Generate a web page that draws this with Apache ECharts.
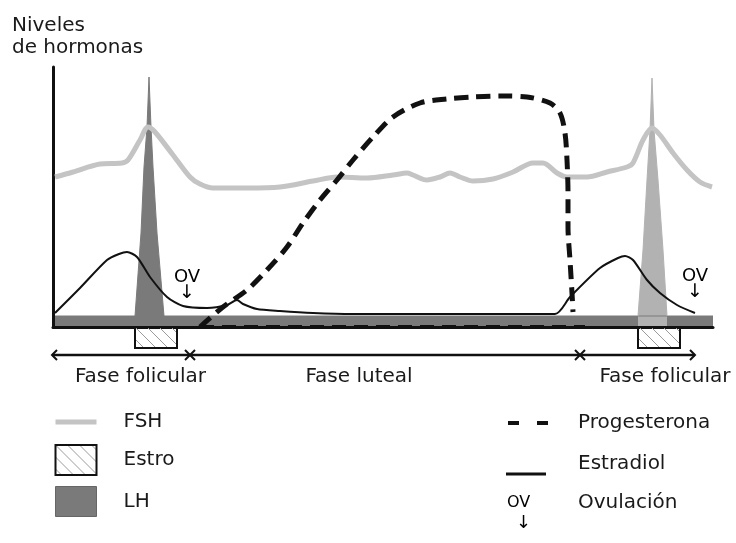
<!DOCTYPE html>
<html>
<head>
<meta charset="utf-8">
<title>Niveles de hormonas</title>
<script src="https://cdn.jsdelivr.net/npm/echarts@6/dist/echarts.min.js"></script>
<style>
html, body { margin: 0; padding: 0; background: #fff; }
#chart { width: 736px; height: 543px; }
</style>
</head>
<body>
<div id="chart"></div>
<script>
// eje x: tiempo del ciclo (unidades arbitrarias 0-660), eje y: nivel (0-260)
const fshX = [2, 20, 47, 69, 75, 87, 95, 102, 120, 137, 147, 160, 194, 227, 260, 284, 314, 340, 354, 360, 374, 387, 397, 407, 420, 440, 460, 480, 490, 504, 514, 534, 554, 574, 580, 590, 599, 607, 620, 634, 647, 659];
const fshY = [150, 155, 163, 164, 167, 187, 200, 195, 172, 150, 143, 139, 139, 140, 146, 150, 149, 152, 154, 152, 147, 150, 154, 150, 146, 148, 155, 164, 164, 154, 150, 150, 155, 160, 164, 187, 199, 192, 174, 157, 145, 140];

const lhX = [0, 82, 88, 91, 94, 96, 98, 100, 104, 111, 660];
const lhY = [11, 11, 94, 160, 200, 250, 200, 160, 94, 11, 11];
const lh2X = [585, 590, 594, 597, 599, 601, 605, 610, 614];
const lh2Y = [11, 77, 147, 197, 249, 197, 147, 77, 11];

const estradiolX = [2, 27, 54, 66, 74, 84, 97, 114, 130, 154, 174, 184, 190, 204, 227, 260, 300, 502, 517, 547, 565, 572, 580, 594, 607, 624, 642];
const estradiolY = [14, 39, 67, 73, 75, 70, 50, 30, 21, 19, 22, 27, 23, 18, 16, 14, 13, 13, 30, 59, 69, 71, 67, 47, 34, 22, 14];

const progX = [147, 170, 194, 214, 234, 250, 267, 284, 300, 320, 340, 367, 394, 420, 447, 474, 497, 507, 512, 514, 515, 515, 517, 519, 520];
const progY = [0, 20, 37, 57, 80, 104, 127, 147, 167, 190, 210, 224, 228, 230, 231, 230, 224, 214, 194, 167, 134, 100, 67, 34, 15];
const progBaseX = [147, 532];
const progBaseY = [0, 0];

const estroStart = [82, 585];
const estroEnd = [124, 627];

const ovX = [134, 642];
const ovY = [24, 25];

const phaseStart = [-1, 137, 527];
const phaseEnd = [137, 527, 642];
const phaseLabelAt = [87.5, 306, 612];
const phaseNames = ['Fase folicular', 'Fase luteal', 'Fase folicular'];

const pairs = (xs, ys) => xs.map((x, i) => [x, ys[i]]);

// trama rayada del Estro
const hatchCanvas = document.createElement('canvas');
hatchCanvas.width = 12;
hatchCanvas.height = 12;
const hctx = hatchCanvas.getContext('2d');
hctx.strokeStyle = '#9a9a9a';
hctx.lineWidth = 1;
hctx.beginPath();
hctx.moveTo(0, 0); hctx.lineTo(12, 12);
hctx.moveTo(-2, 10); hctx.lineTo(2, 14);
hctx.moveTo(10, -2); hctx.lineTo(14, 2);
hctx.stroke();
const hatch = { image: hatchCanvas, repeat: 'repeat' };

const font = 'DejaVu Sans';
const ink = '#1a1a1a';
const fs = 20;

const chart = echarts.init(document.getElementById('chart'));

const legendBase = {
  orient: 'vertical', padding: 0, selectedMode: false,
  itemWidth: 40, itemHeight: 30
};

const option = {
  animation: false,
  backgroundColor: '#fff',
  textStyle: { fontFamily: font },
  title: {
    text: 'Niveles\nde hormonas',
    left: 12,
    top: 15,
    padding: 0,
    textStyle: { fontSize: fs, lineHeight: 22, fontWeight: 'normal', color: ink, fontFamily: font }
  },
  grid: { left: 53, right: 23, top: 67, bottom: 216, containLabel: false },
  xAxis: {
    type: 'value', min: 0, max: 660, z: 3,
    axisLine: { show: true, lineStyle: { color: '#111', width: 3 } },
    axisTick: { show: false }, axisLabel: { show: false }, splitLine: { show: false }
  },
  yAxis: {
    type: 'value', min: 0, max: 260, z: 3,
    axisLine: { show: true, lineStyle: { color: '#111', width: 3 } },
    axisTick: { show: false }, axisLabel: { show: false }, splitLine: { show: false }
  },
  legend: [
    Object.assign({}, legendBase, {
      left: 53, top: 410, itemWidth: 41, itemGap: 10,
      textStyle: { fontSize: fs, color: ink, fontFamily: font, padding: [0, 0, 0, 22] },
      data: [
        { name: 'FSH', itemStyle: { opacity: 0 }, lineStyle: { width: 5, color: '#c4c4c4' } },
        { name: 'Estro', icon: 'rect', itemStyle: { color: hatch, borderColor: '#111', borderWidth: 2 } },
        { name: 'LH', icon: 'rect', itemStyle: { color: '#7a7a7a', borderColor: '#666', borderWidth: 1 } }
      ]
    }),
    Object.assign({}, legendBase, {
      left: 506, top: 411,
      textStyle: { fontSize: fs, color: ink, fontFamily: font, padding: [0, 0, 0, 25] },
      data: [{ name: 'Progesterona', itemStyle: { opacity: 0 }, lineStyle: { width: 4, type: [11, 18], color: '#111' } }]
    }),
    Object.assign({}, legendBase, {
      left: 506, top: 449,
      textStyle: { fontSize: fs, color: ink, fontFamily: font, padding: [0, 0, 0, 27] },
      data: [{
        name: 'Estradiol',
        icon: 'path://M0,0h0.05v0.05h-0.05z M0,23.5h40v3h-40z M39.95,29.95h0.05v0.05h-0.05z',
        itemStyle: { color: '#111', borderWidth: 0, opacity: 1 }
      }]
    }),
    Object.assign({}, legendBase, {
      left: 501, top: 493, itemWidth: 1,
      formatter: name => '{tag|OV}{nom|' + name + '}\n{flecha|↓}',
      textStyle: {
        color: ink, fontFamily: font,
        rich: {
          tag: { fontSize: 16, width: 71, lineHeight: 22, color: '#000', fontFamily: font },
          nom: { fontSize: fs, lineHeight: 22, color: ink, fontFamily: font },
          flecha: { fontSize: 18, lineHeight: 18, padding: [0, 0, 0, 9], color: '#000', fontFamily: font }
        }
      },
      data: [{ name: 'Ovulación', icon: 'rect', itemStyle: { opacity: 0 } }]
    })
  ],
  series: [
    {
      name: 'LH', type: 'line', z: 2, symbol: 'none',
      data: pairs(lhX, lhY),
      itemStyle: { color: '#7a7a7a' },
      lineStyle: { width: 1, color: '#7a7a7a' },
      areaStyle: { color: '#7a7a7a', opacity: 1 }
    },
    {
      name: 'LH', type: 'line', z: 2, symbol: 'none',
      data: pairs(lh2X, lh2Y),
      itemStyle: { color: '#b2b2b2' },
      lineStyle: { width: 1, color: '#b2b2b2' },
      areaStyle: { color: '#b2b2b2', opacity: 1 }
    },
    {
      name: 'FSH', type: 'line', z: 3, symbol: 'none', smooth: 0.3,
      data: pairs(fshX, fshY),
      itemStyle: { color: '#c4c4c4' },
      lineStyle: { width: 5, color: '#c4c4c4' }
    },
    {
      name: 'Estradiol', type: 'line', z: 4, symbol: 'none', smooth: 0.25,
      data: pairs(estradiolX, estradiolY),
      itemStyle: { color: '#111' },
      lineStyle: { width: 2, color: '#111' }
    },
    {
      name: 'Progesterona', type: 'line', z: 5, symbol: 'none', smooth: 0.3,
      data: pairs(progX, progY),
      itemStyle: { color: '#111' },
      lineStyle: { width: 5, color: '#111', type: [14, 8] }
    },
    {
      name: 'Progesterona', type: 'line', z: 5, symbol: 'none',
      data: pairs(progBaseX, progBaseY),
      itemStyle: { color: '#111' },
      lineStyle: { width: 4, color: '#111', type: [14, 8] }
    },
    {
      name: 'Estro', type: 'custom', z: 6,
      itemStyle: { color: hatch, borderColor: '#111', borderWidth: 2 },
      encode: { x: [0, 1] },
      data: estroStart.map((s, i) => [s, estroEnd[i]]),
      renderItem: (params, api) => {
        const p0 = api.coord([api.value(0), 0]);
        const p1 = api.coord([api.value(1), -21]);
        return {
          type: 'rect',
          shape: { x: p0[0], y: p0[1], width: p1[0] - p0[0], height: p1[1] - p0[1] },
          style: { fill: hatch, stroke: '#111', lineWidth: 2 }
        };
      }
    },
    {
      name: 'Fases', type: 'custom', z: 6,
      encode: { x: [0, 1, 2] },
      data: phaseStart.map((s, i) => [s, phaseEnd[i], phaseLabelAt[i]]),
      renderItem: (params, api) => {
        const a = api.coord([api.value(0), -28]);
        const b = api.coord([api.value(1), -28]);
        const t = api.coord([api.value(2), -50]);
        const head = { stroke: '#111', fill: null, lineWidth: 2 };
        return {
          type: 'group',
          children: [
            { type: 'line', shape: { x1: a[0], y1: a[1], x2: b[0], y2: b[1] }, style: { stroke: '#111', lineWidth: 2.5 } },
            { type: 'polyline', shape: { points: [[a[0] + 5, a[1] - 5], [a[0], a[1]], [a[0] + 5, a[1] + 5]] }, style: head },
            { type: 'polyline', shape: { points: [[b[0] - 5, b[1] - 5], [b[0], b[1]], [b[0] - 5, b[1] + 5]] }, style: head },
            {
              type: 'text', x: t[0], y: t[1],
              style: { text: phaseNames[params.dataIndex], align: 'center', verticalAlign: 'middle',
                       fontSize: fs, fontFamily: font, fill: ink }
            }
          ]
        };
      }
    },
    {
      name: 'Ovulación', type: 'custom', z: 7,
      encode: { x: 0, y: 1 },
      data: pairs(ovX, ovY),
      renderItem: (params, api) => {
        const p = api.coord([api.value(0), api.value(1)]);
        return {
          type: 'group',
          children: [
            { type: 'text', x: p[0], y: p[1] - 17,
              style: { text: 'OV', align: 'center', verticalAlign: 'bottom', fontSize: 18, fontFamily: font, fill: '#000' } },
            { type: 'text', x: p[0], y: p[1],
              style: { text: '↓', align: 'center', verticalAlign: 'bottom', fontSize: 19, fontFamily: font, fill: '#000' } }
          ]
        };
      }
    }
  ]
};

chart.setOption(option);
</script>
</body>
</html>
